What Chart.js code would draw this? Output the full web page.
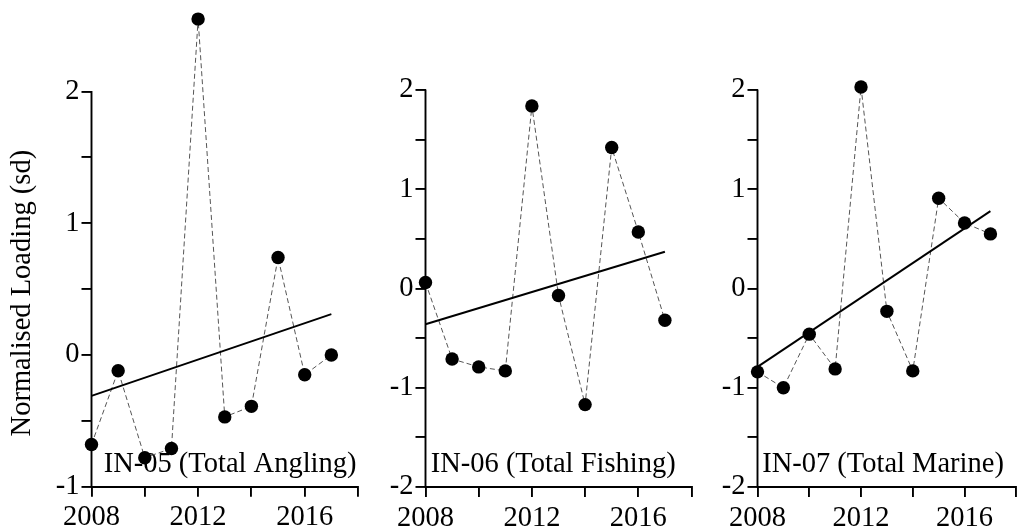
<!DOCTYPE html>
<html>
<head>
<meta charset="utf-8">
<script src="https://cdn.jsdelivr.net/npm/chart.js@4"></script>
<style>
html,body{margin:0;padding:0;background:#fff;}
body{width:1023px;height:530px;position:relative;overflow:hidden;}
.panel{position:absolute;top:0;height:530px;}
</style>
</head>
<body>
<div class="panel" style="left:0;width:372px"><canvas id="c1"></canvas></div>
<div class="panel" style="left:372px;width:333px"><canvas id="c2"></canvas></div>
<div class="panel" style="left:705px;width:318px"><canvas id="c3"></canvas></div>
<script>
// ---- data ----
const years = [2008, 2009, 2010, 2011, 2012, 2013, 2014, 2015, 2016, 2017];
const anglingValues = [-0.68, -0.12, -0.78, -0.71, 2.55, -0.47, -0.39, 0.74, -0.15, 0.00];
const fishingValues = [0.06, -0.71, -0.79, -0.83, 1.84, -0.07, -1.17, 1.42, 0.57, -0.32];
const marineValues  = [-0.84, -1.00, -0.46, -0.81, 2.03, -0.23, -0.83, 0.91, 0.66, 0.55];
const trendYears = [2008, 2017];
const anglingTrend = [-0.31, 0.31];
const fishingTrend = [-0.36, 0.37];
const marineTrend  = [-0.79, 0.78];
const panelTitles = ["IN-05 (Total Angling)", "IN-06 (Total Fishing)", "IN-07 (Total Marine)"];
const yAxisTitle = "Normalised Loading (sd)";
const xLabelYears = [2008, 2012, 2016];

const FONT = '"Liberation Serif", "Times New Roman", serif';
const FS = 28.5;

function makePanel(id, values, trend, title, cfg) {
  const decor = {
    id: 'decor' + id,
    beforeDatasetsDraw(chart) {
      const ctx = chart.ctx, ca = chart.chartArea;
      const xs = chart.scales.x;
      ctx.save();
      ctx.fillStyle = '#000';
      ctx.font = FS + 'px ' + FONT;
      ctx.textAlign = 'center';
      ctx.textBaseline = 'alphabetic';
      ctx.fillText(title, xs.getPixelForValue(cfg.titleAt), ca.bottom - 15);
      ctx.restore();
    },
    afterDraw(chart) {
      const ctx = chart.ctx, ca = chart.chartArea;
      const ys = chart.scales.y;
      ctx.save();
      ctx.strokeStyle = '#000';
      ctx.lineWidth = 1.9;
      ctx.beginPath();
      ctx.moveTo(ca.left, ys.getPixelForValue(cfg.yMin) + 1);
      ctx.lineTo(ca.left, ys.getPixelForValue(2) - 0.5);
      ctx.stroke();
      if (cfg.showYTitle) {
        const cy = (ys.getPixelForValue(cfg.yMin) + ys.getPixelForValue(2)) / 2 + 4;
        ctx.translate(23, cy);
        ctx.rotate(-Math.PI / 2);
        ctx.fillStyle = '#000';
        ctx.font = FS + 'px ' + FONT;
        ctx.textAlign = 'center';
        ctx.textBaseline = 'middle';
        ctx.fillText(yAxisTitle, 0, 0);
      }
      ctx.restore();
    }
  };
  return new Chart(document.getElementById(id), {
    type: 'line',
    data: {
      datasets: [
        {
          data: years.map((y, i) => ({x: y, y: values[i]})),
          borderColor: '#555',
          borderWidth: 1,
          borderDash: [5, 3],
          pointRadius: 6.7,
          pointBackgroundColor: '#000',
          pointBorderColor: '#000',
          pointBorderWidth: 0,
          tension: 0,
          clip: false,
          order: 1
        },
        {
          data: trendYears.map((y, i) => ({x: y, y: trend[i]})),
          borderColor: '#000',
          borderWidth: 1.9,
          pointRadius: 0,
          tension: 0,
          clip: false,
          order: 0
        }
      ]
    },
    options: {
      responsive: true,
      maintainAspectRatio: false,
      animation: false,
      events: [],
      layout: {padding: {top: cfg.top, right: cfg.padRight, bottom: 0, left: 0}},
      plugins: {legend: {display: false}, tooltip: {enabled: false}},
      scales: {
        x: {
          type: 'linear',
          min: 2008, max: 2018,
          afterFit(s) { s.height = cfg.xAxisHeight; s.paddingLeft = 0; s.paddingRight = 0; },
          ticks: {
            stepSize: 2,
            autoSkip: false,
            maxRotation: 0,
            padding: 4,
            color: '#000',
            font: {family: FONT, size: FS},
            callback: v => xLabelYears.includes(v) ? String(v) : ''
          },
          grid: {drawOnChartArea: false, drawTicks: true, tickLength: 10, color: '#000', lineWidth: 1.9},
          border: {display: true, color: '#000', width: 1.9}
        },
        y: {
          type: 'linear',
          min: cfg.yMin, max: cfg.yMax,
          afterFit(s) { s.width = cfg.yAxisWidth; s.paddingTop = 0; s.paddingBottom = 0; },
          afterBuildTicks(s) { s.ticks = s.ticks.filter(t => t.value <= 2.0001); },
          ticks: {
            stepSize: 0.5,
            autoSkip: false,
            padding: 2,
            color: '#000',
            font: {family: FONT, size: FS},
            callback: v => Number.isInteger(v) ? String(v) : ''
          },
          grid: {drawOnChartArea: false, drawTicks: true, tickLength: 10, color: '#000', lineWidth: 1.9},
          border: {display: false}
        }
      }
    },
    plugins: [decor]
  });
}

makePanel('c1', anglingValues, anglingTrend, panelTitles[0],
  {yMin: -1, yMax: 2.604, top: 12, xAxisHeight: 43.3, yAxisWidth: 91.5, padRight: 14, titleAt: 2013.2, showYTitle: true});
makePanel('c2', fishingValues, fishingTrend, panelTitles[1],
  {yMin: -2, yMax: 2.786, top: 12, xAxisHeight: 43, yAxisWidth: 53.5, padRight: 13.5, titleAt: 2012.8, showYTitle: false});
makePanel('c3', marineValues, marineTrend, panelTitles[2],
  {yMin: -2, yMax: 2.786, top: 12, xAxisHeight: 43, yAxisWidth: 52.5, padRight: 1, titleAt: 2012.85, showYTitle: false});
</script>
</body>
</html>
